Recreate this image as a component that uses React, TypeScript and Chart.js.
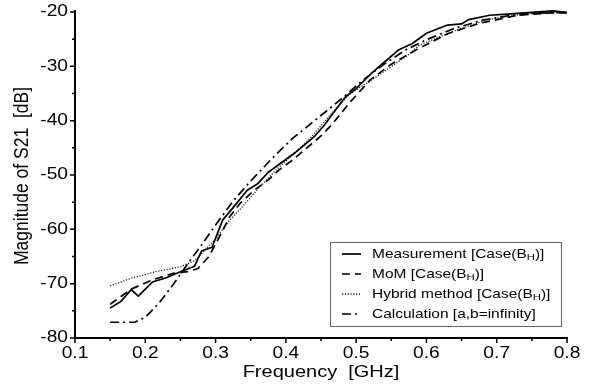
import { useEffect, useRef } from "react";
import Chart from "chart.js/auto";

// Measured S21 magnitude, Case(B_H)
const measFreq = [0.15, 0.165, 0.18, 0.19, 0.21, 0.23, 0.25, 0.27, 0.28, 0.295, 0.31, 0.325, 0.345, 0.36, 0.375, 0.395, 0.415, 0.44, 0.455, 0.465, 0.485, 0.5, 0.52, 0.535, 0.56, 0.58, 0.6, 0.63, 0.65, 0.66, 0.69, 0.715, 0.745, 0.78, 0.8];
const measDb = [-74.5, -73.3, -71.1, -72.3, -69.7, -68.9, -67.8, -66.8, -64, -63.3, -58.3, -56, -52.8, -51.6, -49.5, -47.6, -45.7, -43, -40.8, -39, -35.6, -34.1, -31.5, -29.8, -27, -25.8, -23.9, -22.4, -22.2, -21.4, -20.6, -20.4, -20.1, -19.8, -20.1];

// Method of moments, Case(B_H)
const momFreq = [0.15, 0.18, 0.21, 0.24, 0.26, 0.275, 0.29, 0.305, 0.32, 0.335, 0.355, 0.375, 0.39, 0.41, 0.43, 0.45, 0.465, 0.49, 0.52, 0.55, 0.585, 0.63, 0.675, 0.73, 0.785, 0.8];
const momDb = [-73.8, -71, -69.3, -68.1, -67.8, -67.2, -65.1, -61.5, -57.7, -55.2, -52.8, -50.9, -49.1, -47.2, -45, -42.8, -40.8, -36.8, -32.5, -29.6, -27, -24, -22.1, -20.6, -20.1, -20.1];

// Hybrid method, Case(B_H)
const hybFreq = [0.15, 0.18, 0.215, 0.25, 0.27, 0.3, 0.32, 0.335, 0.36, 0.385, 0.41, 0.435, 0.46, 0.49, 0.515, 0.545, 0.575, 0.59, 0.62, 0.65, 0.685, 0.725, 0.76, 0.8];
const hybDb = [-70.4, -69, -67.8, -66.9, -65.8, -61.8, -58.3, -56.3, -52.6, -49.2, -46.3, -43.2, -39.4, -35.2, -33.1, -30.5, -27.8, -26.1, -24.5, -23, -21.5, -20.6, -20.2, -20.1];

// Calculation with a,b = infinity
const calcFreq = [0.15, 0.185, 0.2, 0.22, 0.24, 0.26, 0.28, 0.3, 0.325, 0.35, 0.38, 0.41, 0.44, 0.48, 0.51, 0.54, 0.57, 0.6, 0.64, 0.68, 0.72, 0.76, 0.8];
const calcDb = [-77.1, -77.1, -76.2, -73.5, -70.1, -66.4, -62.9, -59.2, -54.8, -51.1, -47, -43.2, -40.1, -35.9, -32.5, -29.6, -27, -25.1, -23, -21.5, -20.6, -20.2, -20.1];

// Legend texts: [before subscript, subscript, after subscript]
const legendLabels = [
  ["Measurement [Case(B", "H", ")]"],
  ["MoM [Case(B", "H", ")]"],
  ["Hybrid method [Case(B", "H", ")]"],
  ["Calculation [a,b=infinity]", "", ""],
];

const xTickLabels = ["0.1", "0.2", "0.3", "0.4", "0.5", "0.6", "0.7", "0.8"];
const yTickLabels = ["-80", "-70", "-60", "-50", "-40", "-30", "-20"];

const xTitle = "Frequency  [GHz]";
const yTitle = "Magnitude of S21  [dB]";

const FONT = '"Liberation Sans", Arial, Helvetica, sans-serif';
const SX = 1.2; // horizontal text stretch

const lineStyles = [
  { dash: [] as number[], width: 1.7, color: "#000" },
  { dash: [8, 5], width: 1.7, color: "#000" },
  { dash: [1.2, 1.6], width: 1.3, color: "#222" },
  { dash: [9, 4, 2, 4], width: 1.7, color: "#000" },
];

function pts(f: number[], v: number[]) {
  return f.map((x, i) => ({ x, y: v[i] }));
}

function stretchedText(
  ctx: CanvasRenderingContext2D,
  text: string,
  x: number,
  y: number,
  size: number,
  align: CanvasTextAlign,
  sx: number
) {
  ctx.save();
  ctx.translate(x, y);
  ctx.scale(sx, 1);
  ctx.font = `${size}px ${FONT}`;
  ctx.textAlign = align;
  ctx.textBaseline = "middle";
  ctx.fillStyle = "#000";
  ctx.fillText(text, 0, 0);
  ctx.restore();
}

const framePlugin = {
  id: "frame",
  afterDatasetsDraw(chart: any) {
    const ctx: CanvasRenderingContext2D = chart.ctx;
    const xs = chart.scales.x;
    const ys = chart.scales.y;
    const { left, right, top, bottom } = chart.chartArea;

    ctx.save();
    ctx.strokeStyle = "#000";
    ctx.setLineDash([]);

    // axes
    ctx.lineWidth = 2;
    ctx.beginPath();
    ctx.moveTo(left, top - 2);
    ctx.lineTo(left, bottom);
    ctx.lineTo(right + 1, bottom);
    ctx.stroke();

    // ticks
    ctx.lineWidth = 1.5;
    const xVals = xTickLabels.map(Number);
    const yVals = yTickLabels.map(Number);
    ctx.beginPath();
    xVals.forEach((v, i) => {
      const px = xs.getPixelForValue(v);
      ctx.moveTo(px, bottom);
      ctx.lineTo(px, bottom + 5);
      if (i < xVals.length - 1) {
        const mx = xs.getPixelForValue((v + xVals[i + 1]) / 2);
        ctx.moveTo(mx, bottom);
        ctx.lineTo(mx, bottom + 3);
      }
    });
    yVals.forEach((v, i) => {
      const py = ys.getPixelForValue(v);
      ctx.moveTo(left, py);
      ctx.lineTo(left - 5, py);
      if (i < yVals.length - 1) {
        const my = ys.getPixelForValue((v + yVals[i + 1]) / 2);
        ctx.moveTo(left, my);
        ctx.lineTo(left - 3, my);
      }
    });
    ctx.stroke();

    // tick labels
    xTickLabels.forEach((t) => {
      stretchedText(ctx, t, xs.getPixelForValue(Number(t)), bottom + 16, 16, "center", SX);
    });
    yTickLabels.forEach((t) => {
      stretchedText(ctx, t, left - 7, ys.getPixelForValue(Number(t)), 16, "right", SX);
    });

    // axis titles
    stretchedText(ctx, xTitle, 321, bottom + 35, 16, "center", 1.25);
    ctx.save();
    ctx.translate(22, 176);
    ctx.scale(SX, 1);
    ctx.rotate(-Math.PI / 2);
    ctx.font = `17.5px ${FONT}`;
    ctx.textAlign = "center";
    ctx.textBaseline = "middle";
    ctx.fillStyle = "#000";
    ctx.fillText(yTitle, 0, 0);
    ctx.restore();

    // legend box
    ctx.lineWidth = 1;
    ctx.strokeStyle = "#666";
    ctx.strokeRect(330.5, 242.5, 231, 84);

    const rowY = [254, 274, 294, 314];
    legendLabels.forEach((parts, i) => {
      const st = lineStyles[i];
      const y = rowY[i];
      ctx.save();
      ctx.strokeStyle = st.color;
      ctx.lineWidth = st.width;
      ctx.setLineDash(st.dash);
      ctx.beginPath();
      ctx.moveTo(342, y);
      ctx.lineTo(361, y);
      ctx.stroke();
      ctx.restore();

      ctx.save();
      ctx.translate(372, y);
      ctx.scale(1.19, 1);
      ctx.fillStyle = "#000";
      ctx.textAlign = "left";
      ctx.textBaseline = "middle";
      ctx.font = `13px ${FONT}`;
      let cx = 0;
      ctx.fillText(parts[0], cx, 0);
      cx += ctx.measureText(parts[0]).width;
      if (parts[1]) {
        ctx.font = `9.5px ${FONT}`;
        ctx.fillText(parts[1], cx, 3);
        cx += ctx.measureText(parts[1]).width;
        ctx.font = `13px ${FONT}`;
      }
      if (parts[2]) ctx.fillText(parts[2], cx, 0);
      ctx.restore();
    });

    ctx.restore();
  },
};

export default function App() {
  const ref = useRef<HTMLCanvasElement | null>(null);

  useEffect(() => {
    if (!ref.current) return;
    const series = [
      pts(measFreq, measDb),
      pts(momFreq, momDb),
      pts(hybFreq, hybDb),
      pts(calcFreq, calcDb),
    ];
    const chart = new Chart(ref.current, {
      type: "line",
      data: {
        datasets: series.map((data, i) => ({
          label: legendLabels[i].join(""),
          data,
          borderColor: lineStyles[i].color,
          borderWidth: lineStyles[i].width,
          borderDash: lineStyles[i].dash,
          pointRadius: 0,
          tension: 0,
          fill: false,
          clip: 4,
          borderJoinStyle: "round" as const,
        })),
      },
      options: {
        responsive: false,
        devicePixelRatio: 1,
        animation: false,
        layout: { padding: { left: 75, right: 26, top: 12, bottom: 54 } },
        plugins: { legend: { display: false }, tooltip: { enabled: false } },
        scales: {
          x: { type: "linear", min: 0.1, max: 0.8, display: false },
          y: { type: "linear", min: -80, max: -20, display: false },
        },
      },
      plugins: [framePlugin],
    });
    return () => chart.destroy();
  }, []);

  return (
    <div style={{ position: "absolute", left: 0, top: 0, width: 593, height: 392, background: "#fff" }}>
      <canvas ref={ref} width={593} height={392} />
    </div>
  );
}
